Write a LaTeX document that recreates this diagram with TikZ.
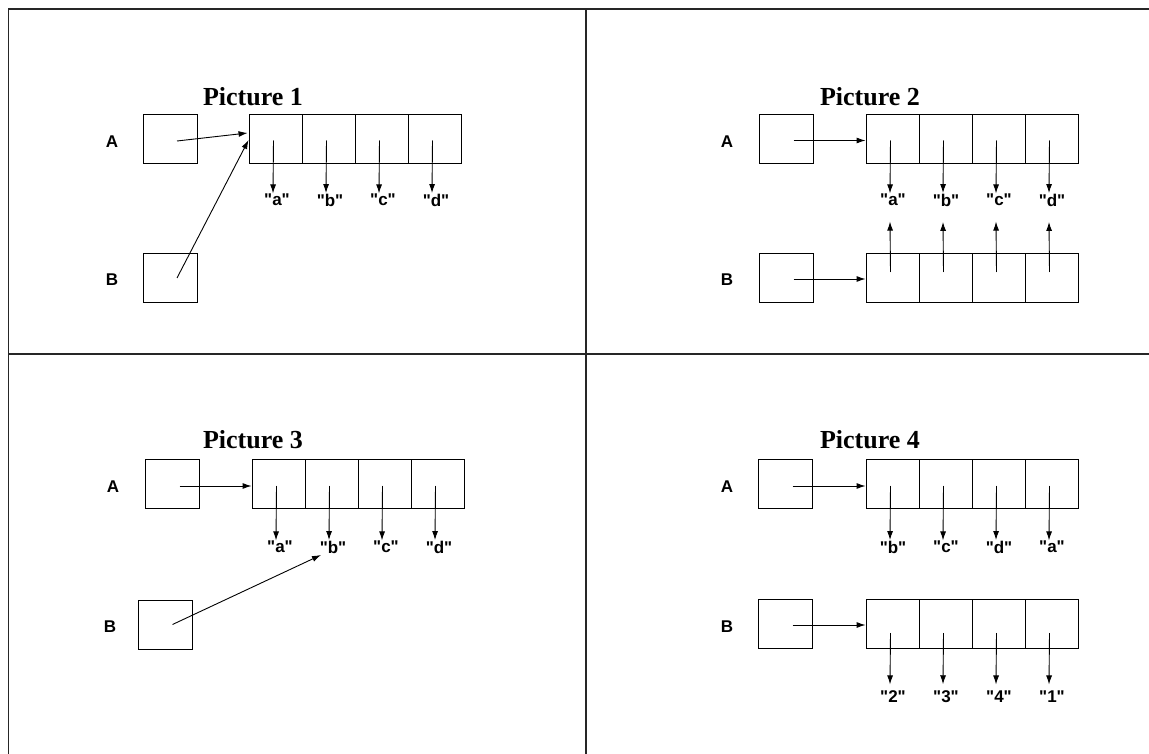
\documentclass[tikz,border=0pt]{standalone}
\usepackage{fontspec}
\setmainfont{Liberation Serif}
\newfontfamily\labfont{Liberation Sans}
\usetikzlibrary{arrows.meta,calc}
\newcommand{\qq}[1]{"#1"}
\tikzset{
  frame/.style={line width=1.1pt, draw=black!85},
  ptrbox/.style={draw, line width=0.9pt, minimum width=54pt, minimum height=49pt, inner sep=0pt},
  cell/.style={draw, line width=0.9pt, minimum width=53pt, minimum height=49pt, inner sep=0pt},
  lab/.style={font=\labfont\bfseries\fontsize{17}{19}\selectfont, inner sep=1.5pt},
  ttl/.style={font=\rmfamily\bfseries\fontsize{26}{30}\selectfont},
  arr/.style={-{Latex[length=9pt,width=6pt]}, line width=0.9pt},
}
\begin{document}
\begin{tikzpicture}[x=1pt,y=-1pt]
\useasboundingbox (0,0) rectangle (1149,754);
% frame
\draw[frame] (8.5,754) -- (8.5,9) -- (1149,9);
\draw[frame] (586,9) -- (586,754);
\draw[frame] (8.5,354) -- (1149,354);

% ---------------- Picture 1 ----------------
\node[ttl] (t1) at (253,97) {Picture 1};
\node[lab] (p1la) at (112,142) {A};
\node[lab] (p1lb) at (112,280) {B};
\node[ptrbox] (p1A) at (170,138.5) {};
\node[ptrbox] (p1B) at (170,278) {};
\foreach \i/\s in {1/a,2/b,3/c,4/d}{
  \node[cell] (p1c\i) at ({249+26.5+53*(\i-1)},138.5) {};
  \node[lab] (p1s\i) at ({249+28+53*(\i-1)},200) {\qq{\s}};
  \draw[arr] ($(p1c\i.center)+(-2,2)$) -- ($(p1s\i.north)+(-4,1)$);
}
\draw[arr] ($(p1A.center)+(7,2.5)$) -- ($(p1c1.west)+(-1,-5.5)$);
\draw[arr] ($(p1B.center)+(7,0)$) -- ($(p1c1.west)+(0,1.5)$);

% ---------------- Picture 2 ----------------
\node[ttl] (t2) at (870,97) {Picture 2};
\node[lab] (p2la) at (727,142) {A};
\node[lab] (p2lb) at (727,280) {B};
\node[ptrbox] (p2A) at (786.5,138.5) {};
\node[ptrbox] (p2B) at (786.5,278) {};
\foreach \i/\s in {1/a,2/b,3/c,4/d}{
  \node[cell] (p2c\i) at ({866+26.5+53*(\i-1)},138.5) {};
  \node[cell] (p2d\i) at ({866+26.5+53*(\i-1)},278) {};
  \node[lab] (p2s\i) at ({866+27+53*(\i-1)},200) {\qq{\s}};
  \draw[arr] ($(p2c\i.center)+(-2,2)$) -- ($(p2s\i.north)+(-3,1)$);
  \draw[arr] ($(p2d\i.center)+(-2,-6)$) -- ($(p2s\i.south)+(-3,14)$);
}
\draw[arr] ($(p2A.center)+(7,2)$) -- ($(p2c1.west)+(0,2)$);
\draw[arr] ($(p2B.center)+(7,1)$) -- ($(p2d1.west)+(0,1)$);

% ---------------- Picture 3 ----------------
\node[ttl] (t3) at (253,440) {Picture 3};
\node[lab] (p3la) at (113,487) {A};
\node[lab] (p3lb) at (110,627) {B};
\node[ptrbox] (p3A) at (172.5,484) {};
\node[ptrbox] (p3B) at (165.5,624.5) {};
\foreach \i/\s in {1/a,2/b,3/c,4/d}{
  \node[cell] (p3c\i) at ({252+26.5+53*(\i-1)},484) {};
  \node[lab] (p3s\i) at ({252+28+53*(\i-1)},547) {\qq{\s}};
  \draw[arr] ($(p3c\i.center)+(-2,2)$) -- ($(p3s\i.north)+(-4,1)$);
}
\draw[arr] ($(p3A.center)+(7,2)$) -- ($(p3c1.west)+(0,2)$);
\coordinate (p3t) at (321,555);
\draw[arr] ($(p3B.center)+(7,0)$) -- (p3t);

% ---------------- Picture 4 ----------------
\node[ttl] (t4) at (870,440) {Picture 4};
\node[lab] (p4la) at (727,487) {A};
\node[lab] (p4lb) at (727,627) {B};
\node[ptrbox] (p4A) at (785.5,484) {};
\node[ptrbox] (p4B) at (785.5,624) {};
\foreach \i/\s/\n in {1/b/2,2/c/3,3/d/4,4/a/1}{
  \node[cell] (p4c\i) at ({866+26.5+53*(\i-1)},484) {};
  \node[cell] (p4d\i) at ({866+26.5+53*(\i-1)},624) {};
  \node[lab] (p4s\i) at ({866+27+53*(\i-1)},547) {\qq{\s}};
  \node[lab] (p4n\i) at ({866+27+53*(\i-1)},697) {\qq{\n}};
  \draw[arr] ($(p4c\i.center)+(-2,2)$) -- ($(p4s\i.north)+(-3,1)$);
  \draw[arr] ($(p4d\i.center)+(-2,9)$) -- ($(p4n\i.north)+(-3,-5)$);
}
\draw[arr] ($(p4A.center)+(7,2)$) -- ($(p4c1.west)+(0,2)$);
\draw[arr] ($(p4B.center)+(7,1)$) -- ($(p4d1.west)+(0,1)$);
\end{tikzpicture}
\end{document}
